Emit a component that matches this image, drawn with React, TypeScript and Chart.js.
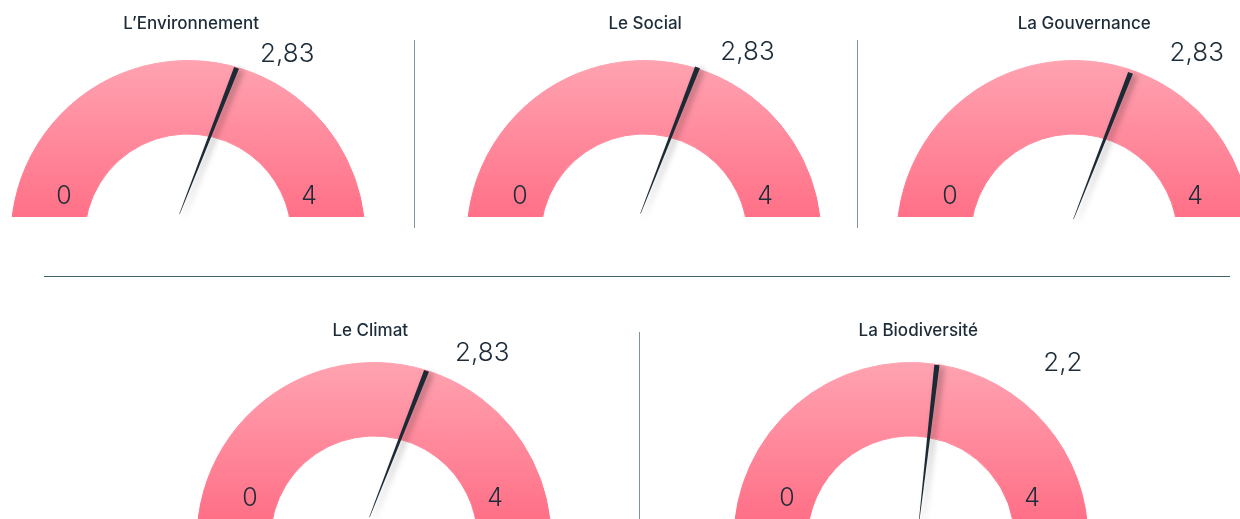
import React, { useEffect, useRef } from "react";
import { Chart, registerables } from "chart.js";

Chart.register(...registerables);

// ---------------- data ----------------
const gaugeTitles = ["L’Environnement", "Le Social", "La Gouvernance", "Le Climat", "La Biodiversité"];
const gaugeValues = [2.83, 2.83, 2.83, 2.83, 2.2];
const gaugeMin = 0;
const gaugeMax = 4;
const tickLabels = ["0", "4"];

// ---------------- layout / style ----------------
const PAGE_W = 1240;
const PAGE_H = 519;
const R_OUT = 178;
const CUTOUT_PCT = "58.5%";
const CENTER_DROP = 21; // circle centre sits below the visible baseline
const CANVAS_W = 440;
const HALF_W = CANVAS_W / 2;
const NEEDLE_LEN = 157;
const NEEDLE_ROT_MIN = -45.2; // degrees from vertical at min value
const NEEDLE_ROT_MAX = 48.8; // degrees from vertical at max value
const TEXT_COLOR = "#1d2c38";
const FONT = "Inter, 'Noto Sans', sans-serif";

type Slot = {
  cx: number;
  base: number;
  rowTop: number;
  titleX: number;
  titleY: number;
  valueX: number;
  valueY: number;
  needleDx: number;
  needleDy: number;
};

const SLOTS: Slot[] = [
  { cx: 187.5, base: 217, rowTop: 0, titleX: 190.7, titleY: 29, valueX: 286.7, valueY: 61.5, needleDx: 20, needleDy: -76 },
  { cx: 643.8, base: 217, rowTop: 0, titleX: 645, titleY: 28.5, valueX: 747.3, valueY: 59.5, needleDx: 25, needleDy: -76.5 },
  { cx: 1074, base: 217, rowTop: 0, titleX: 1084.2, titleY: 28.5, valueX: 1196.7, valueY: 61, needleDx: 28, needleDy: -71 },
  { cx: 374.2, base: 519, rowTop: 290, titleX: 370.5, titleY: 335.5, valueX: 482.5, valueY: 360.7, needleDx: 24, needleDy: -75 },
  { cx: 910.7, base: 519, rowTop: 290, titleX: 918, titleY: 335.5, valueX: 1062.5, valueY: 371, needleDx: 17, needleDy: -76 },
];

const fmt = (v: number) => String(v).replace(".", ",");

function Gauge({ index }: { index: number }) {
  const ref = useRef<HTMLCanvasElement | null>(null);
  const s = SLOTS[index];
  const left = s.cx - HALF_W;
  const height = Math.round(s.base + CENTER_DROP - s.rowTop);
  const clipY = s.base - s.rowTop;

  useEffect(() => {
    const canvas = ref.current;
    if (!canvas) return;
    const ctx = canvas.getContext("2d")!;
    const areaTop = height - R_OUT;
    const grad = ctx.createLinearGradient(0, areaTop, 0, clipY);
    grad.addColorStop(0, "#ffa3b1");
    grad.addColorStop(1, "#ff7087");

    const value = gaugeValues[index];
    const toX = (x: number) => x - left;
    const toY = (y: number) => y - s.rowTop;

    const gaugePlugin = {
      id: "gaugeDecor" + index,
      beforeDatasetsDraw(chart: any) {
        const c = chart.ctx;
        c.save();
        c.beginPath();
        c.rect(0, 0, chart.width, clipY);
        c.clip();
      },
      afterDatasetsDraw(chart: any) {
        const c = chart.ctx;
        c.restore();

        // needle from first arc's angular extent
        const arc = chart.getDatasetMeta(0).data[0];
        const { startAngle, endAngle } = arc.getProps(["startAngle", "endAngle"], true);
        const frac = (endAngle - startAngle) / Math.PI;
        const rot = ((NEEDLE_ROT_MIN + (NEEDLE_ROT_MAX - NEEDLE_ROT_MIN) * frac) * Math.PI) / 180;
        const px = toX(s.cx + s.needleDx);
        const py = toY(s.base + s.needleDy);
        c.save();
        c.translate(px, py);
        c.rotate(rot);
        c.shadowColor = "rgba(0,0,0,0.35)";
        c.shadowBlur = 6;
        c.shadowOffsetX = 4;
        c.shadowOffsetY = 2;
        c.beginPath();
        c.moveTo(-2.6, -NEEDLE_LEN / 2);
        c.lineTo(2.6, -NEEDLE_LEN / 2);
        c.lineTo(0.25, NEEDLE_LEN / 2);
        c.lineTo(-0.25, NEEDLE_LEN / 2);
        c.closePath();
        c.fillStyle = "#1b2a35";
        c.fill();
        c.restore();
      },
      afterDraw(chart: any) {
        const c = chart.ctx;
        c.save();
        c.fillStyle = TEXT_COLOR;
        c.textAlign = "center";
        c.textBaseline = "alphabetic";
        // title
        c.font = `500 17px ${FONT}`;
        c.fillText(gaugeTitles[index], toX(s.titleX), toY(s.titleY));
        // value
        c.font = `300 26px ${FONT}`;
        c.fillText(fmt(value), toX(s.valueX), toY(s.valueY));
        // min / max ticks
        c.font = `300 25px ${FONT}`;
        c.fillText(tickLabels[0], toX(s.cx - 124), toY(s.base - 13.5));
        c.fillText(tickLabels[1], toX(s.cx + 121), toY(s.base - 13.5));
        c.restore();
      },
    };

    const chart = new Chart(canvas, {
      type: "doughnut",
      data: {
        labels: ["value", "rest"],
        datasets: [
          {
            data: [value - gaugeMin, gaugeMax - value],
            backgroundColor: [grad, grad],
            borderColor: [grad, grad],
            borderWidth: 1,
          },
        ],
      },
      options: {
        responsive: false,
        maintainAspectRatio: false,
        animation: false,
        events: [],
        rotation: -90,
        circumference: 180,
        cutout: CUTOUT_PCT,
        layout: {
          padding: { left: HALF_W - R_OUT, right: HALF_W - R_OUT, top: height - R_OUT, bottom: 0 },
        },
        plugins: {
          legend: { display: false },
          tooltip: { enabled: false },
          title: { display: false },
        },
      },
      plugins: [gaugePlugin],
    } as any);
    return () => chart.destroy();
  }, [index]);

  return (
    <div style={{ position: "absolute", left, top: s.rowTop, width: CANVAS_W, height }}>
      <canvas ref={ref} width={CANVAS_W} height={height} style={{ display: "block" }} />
    </div>
  );
}

export default function App() {
  const vLine = (x: number, y1: number, y2: number) => (
    <div style={{ position: "absolute", left: x - 0.5, top: y1, width: 1.2, height: y2 - y1, background: "#7a959e" }} />
  );
  return (
    <div
      style={{
        position: "fixed",
        left: 0,
        top: 0,
        width: PAGE_W,
        height: PAGE_H,
        overflow: "hidden",
        background: "#ffffff",
      }}
    >
      {vLine(414, 40, 228)}
      {vLine(857, 40, 228)}
      {vLine(639, 332, 519)}
      <div style={{ position: "absolute", left: 44, top: 275.5, width: 1186, height: 1.3, background: "#3e616d" }} />
      {gaugeValues.map((_, i) => (
        <Gauge key={i} index={i} />
      ))}
    </div>
  );
}
